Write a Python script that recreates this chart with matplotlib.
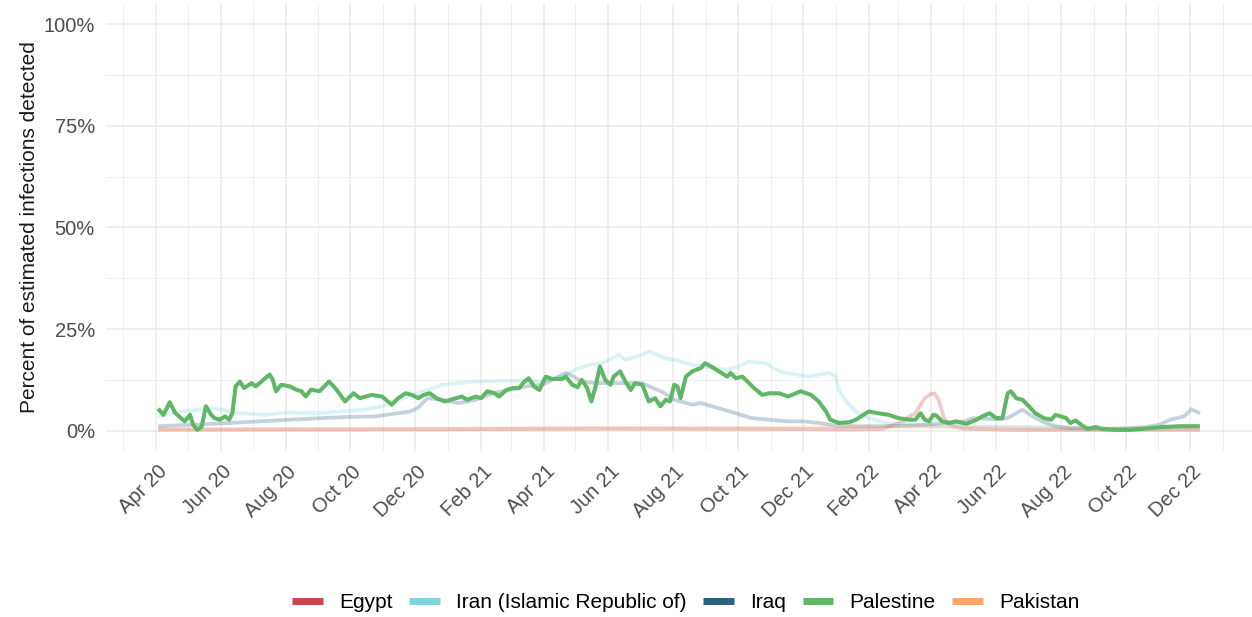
import matplotlib
matplotlib.use("Agg")
import matplotlib.pyplot as plt
import matplotlib.dates as mdates
import matplotlib.ticker as mticker
import matplotlib.transforms as mtransforms
from matplotlib.lines import Line2D
import pandas as pd

plt.rcParams['font.family'] = ['Liberation Sans', 'DejaVu Sans']

# ---------------- data ----------------
palestine_dates = [
    "2020-04-03", "2020-04-08", "2020-04-14", "2020-04-19", "2020-04-28", "2020-05-03",
    "2020-05-06", "2020-05-10", "2020-05-14", "2020-05-18", "2020-05-23", "2020-05-26",
    "2020-05-31", "2020-06-05", "2020-06-09", "2020-06-12", "2020-06-15", "2020-06-19",
    "2020-06-23", "2020-06-30", "2020-07-04", "2020-07-11", "2020-07-17", "2020-07-20",
    "2020-07-23", "2020-07-28", "2020-08-05", "2020-08-11", "2020-08-16", "2020-08-20",
    "2020-08-25", "2020-09-02", "2020-09-11", "2020-09-18", "2020-09-26", "2020-10-04",
    "2020-10-10", "2020-10-21", "2020-10-31", "2020-11-09", "2020-11-15", "2020-11-22",
    "2020-11-28", "2020-12-04", "2020-12-09", "2020-12-15", "2020-12-21", "2020-12-29",
    "2021-01-06", "2021-01-14", "2021-01-19", "2021-01-27", "2021-02-01", "2021-02-07",
    "2021-02-14", "2021-02-18", "2021-02-25", "2021-03-03", "2021-03-09", "2021-03-14",
    "2021-03-18", "2021-03-23", "2021-03-28", "2021-04-03", "2021-04-09", "2021-04-18",
    "2021-04-22", "2021-04-28", "2021-05-03", "2021-05-07", "2021-05-12", "2021-05-16",
    "2021-05-20", "2021-05-24", "2021-05-29", "2021-06-03", "2021-06-06", "2021-06-12",
    "2021-06-17", "2021-06-22", "2021-06-26", "2021-07-03", "2021-07-09", "2021-07-15",
    "2021-07-20", "2021-07-25", "2021-07-29", "2021-08-02", "2021-08-05", "2021-08-08",
    "2021-08-13", "2021-08-19", "2021-08-27", "2021-08-31", "2021-09-07", "2021-09-13",
    "2021-09-21", "2021-09-24", "2021-09-29", "2021-10-05", "2021-10-10", "2021-10-16",
    "2021-10-24", "2021-10-30", "2021-11-09", "2021-11-17", "2021-11-21", "2021-11-29",
    "2021-12-09", "2021-12-16", "2021-12-23", "2021-12-27", "2022-01-04", "2022-01-14",
    "2022-01-20", "2022-01-26", "2022-02-01", "2022-02-10", "2022-02-20", "2022-03-01",
    "2022-03-11", "2022-03-17", "2022-03-22", "2022-03-26", "2022-03-30", "2022-04-03",
    "2022-04-06", "2022-04-11", "2022-04-18", "2022-04-24", "2022-05-04", "2022-05-12",
    "2022-05-19", "2022-05-26", "2022-06-01", "2022-06-07", "2022-06-12", "2022-06-15",
    "2022-06-20", "2022-06-26", "2022-07-02", "2022-07-08", "2022-07-16", "2022-07-23",
    "2022-07-27", "2022-08-01", "2022-08-06", "2022-08-10", "2022-08-15", "2022-08-20",
    "2022-08-26", "2022-09-03", "2022-09-09", "2022-09-22", "2022-10-04", "2022-10-20",
    "2022-11-05", "2022-11-21", "2022-12-10",
]
palestine_vals = [
    5.4, 3.9, 7.0, 4.4, 2.3, 3.9,
    1.5, 0.2, 1.0, 6.0, 3.9, 3.1,
    2.7, 3.5, 2.7, 4.4, 10.9, 12.1,
    10.5, 11.7, 10.9, 12.5, 13.8, 12.5,
    9.7, 11.3, 10.9, 10.1, 9.7, 8.4,
    10.1, 9.7, 12.1, 10.1, 7.2, 9.2,
    8.0, 8.8, 8.4, 6.4, 8.0, 9.2,
    8.8, 8.0, 8.8, 9.2, 8.0, 7.2,
    7.8, 8.4, 7.6, 8.4, 8.0, 9.7,
    9.2, 8.4, 10.0, 10.5, 10.5, 12.1,
    12.9, 10.9, 10.0, 13.3, 12.7, 12.7,
    13.3, 11.3, 10.7, 12.5, 10.5, 7.2,
    10.9, 15.8, 12.5, 11.3, 13.3, 14.6,
    12.1, 10.0, 11.7, 11.3, 7.2, 8.0,
    6.0, 7.6, 7.2, 11.3, 10.9, 8.0,
    13.3, 14.6, 15.4, 16.6, 15.6, 14.6,
    13.3, 14.2, 12.9, 13.3, 12.1, 10.5,
    8.8, 9.2, 9.2, 8.4, 8.8, 9.7,
    8.8, 7.2, 4.7, 2.7, 1.9, 2.1,
    2.7, 3.7, 4.7, 4.3, 3.9, 3.1,
    2.7, 2.7, 4.3, 2.7, 2.3, 3.9,
    3.7, 2.3, 1.9, 2.3, 1.7, 2.5,
    3.5, 4.3, 3.1, 3.1, 9.2, 9.7,
    8.0, 7.6, 6.0, 4.3, 3.1, 2.7,
    3.9, 3.5, 3.1, 1.9, 2.5, 1.5,
    0.4, 0.9, 0.4, 0.2, 0.2, 0.5,
    0.9, 1.1, 1.1,
]

iran_dates = [
    "2020-04-03", "2020-04-24", "2020-05-26", "2020-06-17", "2020-07-12", "2020-08-03",
    "2020-08-28", "2020-09-22", "2020-10-15", "2020-10-31", "2020-11-15", "2020-12-04",
    "2020-12-13", "2020-12-26", "2021-01-11", "2021-01-27", "2021-02-27", "2021-03-30",
    "2021-04-18", "2021-05-01", "2021-05-13", "2021-05-26", "2021-06-11", "2021-06-17",
    "2021-07-03", "2021-07-09", "2021-07-25", "2021-08-03", "2021-08-19", "2021-09-07",
    "2021-09-21", "2021-10-02", "2021-10-11", "2021-10-27", "2021-11-09", "2021-11-24",
    "2021-12-07", "2021-12-26", "2022-01-01", "2022-01-04", "2022-01-11", "2022-01-20",
    "2022-02-01", "2022-02-17", "2022-04-05", "2022-06-01", "2022-08-01", "2022-10-01",
    "2022-12-10",
]
iran_vals = [
    3.5, 4.7, 5.5, 4.3, 3.9, 4.5,
    4.3, 4.7, 5.2, 6.0, 7.6, 9.2,
    10.0, 11.3, 11.7, 12.1, 12.3, 12.1,
    13.3, 15.0, 16.2, 16.6, 18.7, 17.4,
    18.7, 19.5, 17.8, 17.4, 16.2, 15.4,
    15.0, 15.8, 17.0, 16.6, 14.6, 13.8,
    13.3, 14.2, 13.3, 10.0, 7.2, 4.7,
    3.1, 1.9, 1.2, 1.0, 0.8, 0.5,
    0.6,
]

iraq_dates = [
    "2020-04-03", "2020-05-10", "2020-06-10", "2020-07-22", "2020-08-20", "2020-09-29",
    "2020-10-24", "2020-11-15", "2020-11-26", "2020-12-03", "2020-12-13", "2020-12-26",
    "2021-01-11", "2021-01-27", "2021-02-12", "2021-02-27", "2021-03-16", "2021-03-31",
    "2021-04-15", "2021-04-22", "2021-04-28", "2021-05-07", "2021-05-20", "2021-06-09",
    "2021-07-03", "2021-07-13", "2021-07-22", "2021-08-02", "2021-08-19", "2021-08-27",
    "2021-09-13", "2021-09-29", "2021-10-14", "2021-10-30", "2021-11-17", "2021-12-02",
    "2021-12-16", "2022-01-02", "2022-01-20", "2022-02-20", "2022-03-17", "2022-03-30",
    "2022-04-15", "2022-05-02", "2022-05-11", "2022-05-26", "2022-06-03", "2022-06-12",
    "2022-06-20", "2022-06-26", "2022-07-03", "2022-07-14", "2022-07-27", "2022-08-10",
    "2022-08-26", "2022-09-14", "2022-10-03", "2022-10-20", "2022-11-02", "2022-11-12",
    "2022-11-25", "2022-12-02", "2022-12-10",
]
iraq_vals = [
    1.1, 1.5, 1.9, 2.5, 2.9, 3.4,
    3.5, 4.3, 4.7, 5.5, 8.0, 7.6,
    6.8, 7.6, 9.2, 10.0, 10.9, 11.3,
    13.3, 14.2, 13.5, 12.1, 11.7, 11.7,
    11.7, 10.5, 9.5, 7.6, 6.4, 6.8,
    5.5, 4.3, 3.1, 2.7, 2.3, 2.3,
    1.9, 1.2, 1.1, 1.1, 1.3, 1.5,
    1.9, 2.3, 3.1, 2.9, 2.8, 3.1,
    4.3, 5.2, 3.9, 2.3, 1.1, 0.6,
    0.6, 0.4, 0.6, 0.9, 1.5, 2.7,
    3.5, 5.3, 4.3,
]

egypt_dates = [
    "2020-04-03", "2020-09-01", "2021-01-01", "2021-06-01", "2021-10-01", "2022-01-15",
    "2022-02-14", "2022-02-21", "2022-03-06", "2022-03-09", "2022-03-17", "2022-03-21",
    "2022-03-26", "2022-03-30", "2022-04-04", "2022-04-08", "2022-04-13", "2022-04-18",
    "2022-05-01", "2022-06-15", "2022-09-01", "2022-12-10",
]
egypt_vals = [
    0.25, 0.3, 0.35, 0.5, 0.45, 0.3,
    0.4, 1.1, 2.3, 3.1, 4.3, 6.0,
    8.0, 8.8, 9.2, 7.6, 3.1, 1.5,
    0.5, 0.2, 0.2, 0.2,
]

pakistan_dates = [
    "2020-04-03", "2020-08-01", "2021-01-01", "2021-06-01", "2021-10-01", "2022-01-15",
    "2022-03-01", "2022-05-01", "2022-08-01", "2022-12-10",
]
pakistan_vals = [0.3, 0.4, 0.5, 0.7, 0.6, 0.9, 1.0, 0.8, 0.5, 0.5]

countries = ["Egypt", "Iran (Islamic Republic of)", "Iraq", "Palestine", "Pakistan"]
colors = ["#C8454E", "#7FD3DD", "#2A6082", "#5FB665", "#FFA66E"]
series = {
    "Egypt": (egypt_dates, egypt_vals),
    "Iran (Islamic Republic of)": (iran_dates, iran_vals),
    "Iraq": (iraq_dates, iraq_vals),
    "Palestine": (palestine_dates, palestine_vals),
    "Pakistan": (pakistan_dates, pakistan_vals),
}
highlight = "Palestine"

# ---------------- figure ----------------
fig = plt.figure(figsize=(12.52, 6.17), dpi=100)
ax = fig.add_axes([106 / 1252, 1 - 451 / 617, 1 - 106 / 1252, 447 / 617])

for name, col in zip(countries, colors):
    if name == highlight:
        continue
    d, v = series[name]
    ax.plot(pd.to_datetime(d), v, color=col, lw=2.7, alpha=0.28, solid_capstyle='butt', zorder=2)
d, v = series[highlight]
ax.plot(pd.to_datetime(d), v, color=colors[countries.index(highlight)], lw=2.9,
        solid_capstyle='butt', solid_joinstyle='round', zorder=3)

start = pd.Timestamp("2020-04-03")
end = pd.Timestamp("2022-12-10")
span = (end - start)
ax.set_xlim(start - span * 0.05, end + span * 0.05)
ax.set_ylim(-5, 105)

ax.xaxis.set_major_locator(mdates.MonthLocator(bymonth=[2, 4, 6, 8, 10, 12]))
ax.xaxis.set_minor_locator(mdates.MonthLocator(bymonth=[1, 3, 5, 7, 9, 11]))
ax.xaxis.set_major_formatter(mdates.DateFormatter("%b %y"))
ax.yaxis.set_major_locator(mticker.FixedLocator([0, 25, 50, 75, 100]))
ax.yaxis.set_minor_locator(mticker.FixedLocator([12.5, 37.5, 62.5, 87.5]))
ax.yaxis.set_major_formatter(mticker.FuncFormatter(lambda x, p: f"{x:.0f}%"))

ax.grid(which='major', color='#EBEBEB', lw=1.1, zorder=0)
ax.grid(which='minor', color='#EBEBEB', lw=0.55, zorder=0)
ax.set_axisbelow(True)
for s in ax.spines.values():
    s.set_visible(False)
ax.tick_params(which='both', length=0)
ax.tick_params(axis='y', labelsize=14.5, labelcolor='#4D4D4D', pad=8)
ax.tick_params(axis='x', labelsize=14.5, labelcolor='#4D4D4D', pad=8)
offset = mtransforms.ScaledTranslation(1 / 72, 0, fig.dpi_scale_trans)
for lab in ax.get_xticklabels():
    lab.set_rotation(45)
    lab.set_ha('right')
    lab.set_va('top')
    lab.set_rotation_mode('anchor')
    lab.set_transform(lab.get_transform() + offset)

ax.set_ylabel("Percent of estimated infections detected", fontsize=15, color='#1A1A1A', labelpad=3)

handles = [Line2D([0], [0], color=c, lw=5, solid_capstyle='butt') for c in colors]
fig.legend(handles, countries, loc='center', bbox_to_anchor=(686 / 1252, 1 - 603 / 617), ncol=5,
           frameon=False, fontsize=15, handlelength=1.45, handletextpad=0.8, columnspacing=0.8,
           borderaxespad=0)

fig.savefig("out.png", dpi=100)
